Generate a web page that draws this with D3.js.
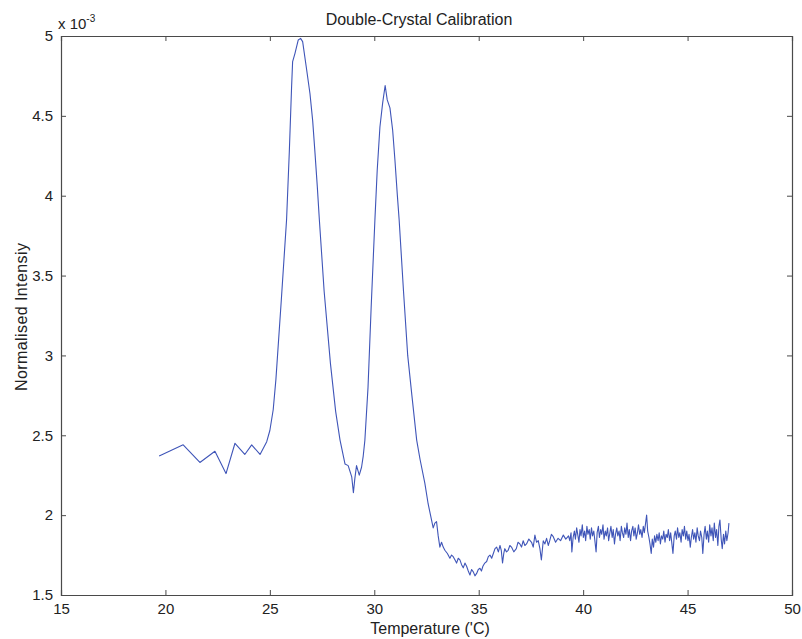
<!DOCTYPE html>
<html>
<head>
<meta charset="utf-8">
<script src="https://cdn.jsdelivr.net/npm/d3@7"></script>
<style>
  html, body { margin: 0; padding: 0; background: #ffffff; }
  svg { display: block; font-family: "Liberation Sans", Arial, sans-serif; }
</style>
</head>
<body>
<svg id="chart" width="802" height="639"></svg>
<script>
// Normalised intensity (x 10^-3) against temperature (degrees C)
const chartTitle = "Double-Crystal Calibration";
const xLabel = "Temperature ('C)";
const yLabel = "Normalised Intensiy";
const xTicks = [15, 20, 25, 30, 35, 40, 45, 50];
const yTicks = [1.5, 2, 2.5, 3, 3.5, 4, 4.5, 5];

// Sparse baseline before the first reflection
const baseline = [
  [19.7, 2.37], [20.85, 2.44], [21.65, 2.33], [22.37, 2.40], [22.9, 2.26],
  [23.33, 2.45], [23.8, 2.38], [24.13, 2.44], [24.53, 2.38], [24.85, 2.46]
];

// The two crystal peaks and the dip between them
const peaks = [
  [25.0, 2.53], [25.16, 2.66], [25.29, 2.85], [25.55, 3.35], [25.8, 3.85],
  [25.93, 4.27], [26.04, 4.68], [26.09, 4.84], [26.2, 4.89], [26.36, 4.975],
  [26.47, 4.985], [26.57, 4.965], [26.76, 4.79], [26.92, 4.64], [27.05, 4.47],
  [27.16, 4.27], [27.27, 4.06], [27.37, 3.85], [27.6, 3.40], [27.9, 2.95],
  [28.15, 2.65], [28.36, 2.47], [28.6, 2.32], [28.75, 2.31], [28.92, 2.24],
  [29.0, 2.14], [29.07, 2.23], [29.15, 2.31], [29.28, 2.25], [29.39, 2.30],
  [29.47, 2.37], [29.55, 2.47], [29.7, 2.80], [29.85, 3.30], [30.03, 3.85],
  [30.14, 4.16], [30.27, 4.43], [30.4, 4.58], [30.52, 4.69], [30.62, 4.60],
  [30.75, 4.55], [30.88, 4.41], [30.99, 4.22], [31.1, 4.01], [31.19, 3.85],
  [31.4, 3.40], [31.6, 3.00], [31.8, 2.75], [32.03, 2.47], [32.19, 2.35],
  [32.42, 2.20], [32.58, 2.07], [32.74, 1.97], [32.82, 1.92], [32.9, 1.95],
  [32.98, 1.96], [33.06, 1.87], [33.14, 1.80], [33.22, 1.83]
];

// Noisy recovery after the minimum
const tail = [
  [33.3, 1.80], [33.38, 1.78], [33.5, 1.76], [33.62, 1.73], [33.7, 1.75],
  [33.78, 1.74], [33.86, 1.72], [33.94, 1.70], [34.02, 1.73], [34.1, 1.72],
  [34.18, 1.69], [34.26, 1.67], [34.34, 1.70], [34.42, 1.68], [34.5, 1.65],
  [34.58, 1.625], [34.66, 1.66], [34.74, 1.645], [34.82, 1.62], [34.9, 1.635],
  [34.98, 1.66], [35.06, 1.667], [35.13, 1.65], [35.2, 1.68], [35.29, 1.70],
  [35.38, 1.71], [35.46, 1.74], [35.54, 1.75], [35.62, 1.73], [35.7, 1.76],
  [35.78, 1.79], [35.86, 1.80], [35.94, 1.77], [36.02, 1.81], [36.08, 1.78],
  [36.14, 1.70], [36.2, 1.76], [36.25, 1.79], [36.33, 1.77], [36.41, 1.78],
  [36.49, 1.81], [36.57, 1.80], [36.68, 1.77], [36.8, 1.79], [36.88, 1.83],
  [36.97, 1.82], [37.05, 1.80], [37.13, 1.84], [37.21, 1.81], [37.29, 1.82],
  [37.4, 1.85], [37.53, 1.83], [37.61, 1.80], [37.69, 1.875], [37.77, 1.83],
  [37.85, 1.84], [37.93, 1.79], [38.0, 1.72], [38.09, 1.84], [38.17, 1.82],
  [38.25, 1.855], [38.33, 1.81], [38.4, 1.84], [38.48, 1.88], [38.57, 1.865],
  [38.68, 1.83], [38.8, 1.855], [38.92, 1.84], [39.05, 1.875], [39.17, 1.85],
  [39.3, 1.87], [39.36, 1.84], [39.42, 1.89], [39.46, 1.77], [39.52, 1.86],
  [39.58, 1.90], [39.63, 1.85], [39.69, 1.92], [39.74, 1.88], [39.8, 1.83],
  [39.85, 1.91], [39.9, 1.87], [39.96, 1.94], [40.01, 1.86], [40.07, 1.90],
  [40.12, 1.84], [40.18, 1.93], [40.23, 1.88], [40.29, 1.91], [40.34, 1.85],
  [40.4, 1.92], [40.45, 1.87], [40.51, 1.90], [40.57, 1.83], [40.62, 1.77],
  [40.67, 1.89], [40.73, 1.93], [40.78, 1.86], [40.84, 1.91], [40.89, 1.88],
  [40.95, 1.94], [41.0, 1.85], [41.06, 1.90], [41.11, 1.87], [41.17, 1.92],
  [41.22, 1.84], [41.28, 1.89], [41.33, 1.93], [41.39, 1.86], [41.44, 1.91],
  [41.5, 1.82], [41.55, 1.88], [41.61, 1.92], [41.66, 1.87], [41.72, 1.90],
  [41.77, 1.84], [41.83, 1.93], [41.88, 1.89], [41.94, 1.86], [41.99, 1.92],
  [42.05, 1.88], [42.1, 1.95], [42.16, 1.86], [42.21, 1.91], [42.27, 1.84],
  [42.32, 1.90], [42.38, 1.93], [42.43, 1.87], [42.49, 1.92], [42.54, 1.85],
  [42.6, 1.89], [42.65, 1.94], [42.71, 1.88], [42.76, 1.91], [42.82, 1.86],
  [42.88, 1.93], [42.93, 1.89], [42.99, 1.95], [43.04, 2.00], [43.09, 1.90],
  [43.15, 1.86], [43.2, 1.82], [43.26, 1.76], [43.31, 1.85], [43.37, 1.80],
  [43.42, 1.87], [43.48, 1.83], [43.53, 1.88], [43.59, 1.84], [43.64, 1.89],
  [43.7, 1.82], [43.75, 1.87], [43.81, 1.85], [43.86, 1.90], [43.92, 1.83],
  [43.97, 1.88], [44.03, 1.86], [44.08, 1.91], [44.14, 1.84], [44.19, 1.89],
  [44.25, 1.82], [44.3, 1.76], [44.36, 1.87], [44.41, 1.90], [44.47, 1.85],
  [44.52, 1.92], [44.58, 1.86], [44.63, 1.89], [44.69, 1.83], [44.74, 1.91],
  [44.8, 1.87], [44.85, 1.93], [44.91, 1.85], [44.96, 1.90], [45.02, 1.84],
  [45.07, 1.88], [45.13, 1.80], [45.18, 1.86], [45.24, 1.91], [45.29, 1.85],
  [45.35, 1.89], [45.4, 1.83], [45.46, 1.92], [45.51, 1.87], [45.57, 1.84],
  [45.62, 1.90], [45.68, 1.86], [45.73, 1.76], [45.79, 1.88], [45.84, 1.93],
  [45.9, 1.85], [45.95, 1.90], [46.01, 1.83], [46.06, 1.94], [46.12, 1.87],
  [46.17, 1.92], [46.23, 1.84], [46.28, 1.95], [46.34, 1.86], [46.39, 1.91],
  [46.45, 1.81], [46.5, 1.93], [46.55, 1.97], [46.61, 1.85], [46.66, 1.79],
  [46.72, 1.88], [46.77, 1.82], [46.83, 1.90], [46.88, 1.84], [46.94, 1.89],
  [46.98, 1.95]
];

const series = baseline.concat(peaks, tail);

const svg = d3.select("#chart");
const plot = { left: 61, right: 792, top: 36, bottom: 595 };

const x = d3.scaleLinear().domain([15, 50]).range([plot.left, plot.right]);
const y = d3.scaleLinear().domain([1.5, 5]).range([plot.bottom, plot.top]);

const axisColor = "#4a4a4a";
const textColor = "#222";
const tickLen = 5;

// Inward ticks on all four sides, box style
const axes = [
  { g: d3.axisBottom(x).tickValues(xTicks).tickSize(-tickLen).tickPadding(8), t: `translate(0,${plot.bottom})`, labels: true },
  { g: d3.axisTop(x).tickValues(xTicks).tickSize(-tickLen), t: `translate(0,${plot.top})`, labels: false },
  { g: d3.axisLeft(y).tickValues(yTicks).tickSize(-tickLen).tickPadding(8), t: `translate(${plot.left},0)`, labels: true },
  { g: d3.axisRight(y).tickValues(yTicks).tickSize(-tickLen), t: `translate(${plot.right},0)`, labels: false }
];

axes.forEach(a => {
  const g = svg.append("g").attr("transform", a.t).call(a.g.tickFormat(d3.format("")));
  g.select(".domain").attr("stroke", axisColor).attr("stroke-width", 1.2);
  g.selectAll(".tick line").attr("stroke", axisColor);
  if (a.labels) {
    g.selectAll(".tick text").attr("fill", textColor).style("font-size", "15px")
      .style("font-family", "\"Liberation Sans\", Arial, sans-serif");
  } else {
    g.selectAll(".tick text").remove();
  }
});

// Data trace
const line = d3.line().x(d => x(d[0])).y(d => y(d[1]));
svg.append("path")
  .datum(series)
  .attr("fill", "none")
  .attr("stroke", "#3f55b8")
  .attr("stroke-width", 1.1)
  .attr("stroke-linejoin", "round")
  .attr("d", line);

// Title and axis labels
svg.append("text")
  .attr("x", 419).attr("y", 25)
  .attr("text-anchor", "middle")
  .style("font-size", "16px").attr("fill", textColor)
  .text(chartTitle);

svg.append("text")
  .attr("x", 430).attr("y", 634)
  .attr("text-anchor", "middle")
  .style("font-size", "16px").attr("fill", textColor)
  .text(xLabel);

svg.append("text")
  .attr("transform", "translate(27,317) rotate(-90)")
  .attr("text-anchor", "middle")
  .attr("textLength", 148)
  .attr("lengthAdjust", "spacing")
  .style("font-size", "16px").attr("fill", textColor)
  .text(yLabel);

// Exponent marker above the y axis
const expo = svg.append("text")
  .attr("x", 58).attr("y", 29)
  .style("font-size", "15px").attr("fill", textColor);
expo.append("tspan").text("x 10");
expo.append("tspan").attr("dy", -7).style("font-size", "10px").text("-3");
</script>
</body>
</html>
